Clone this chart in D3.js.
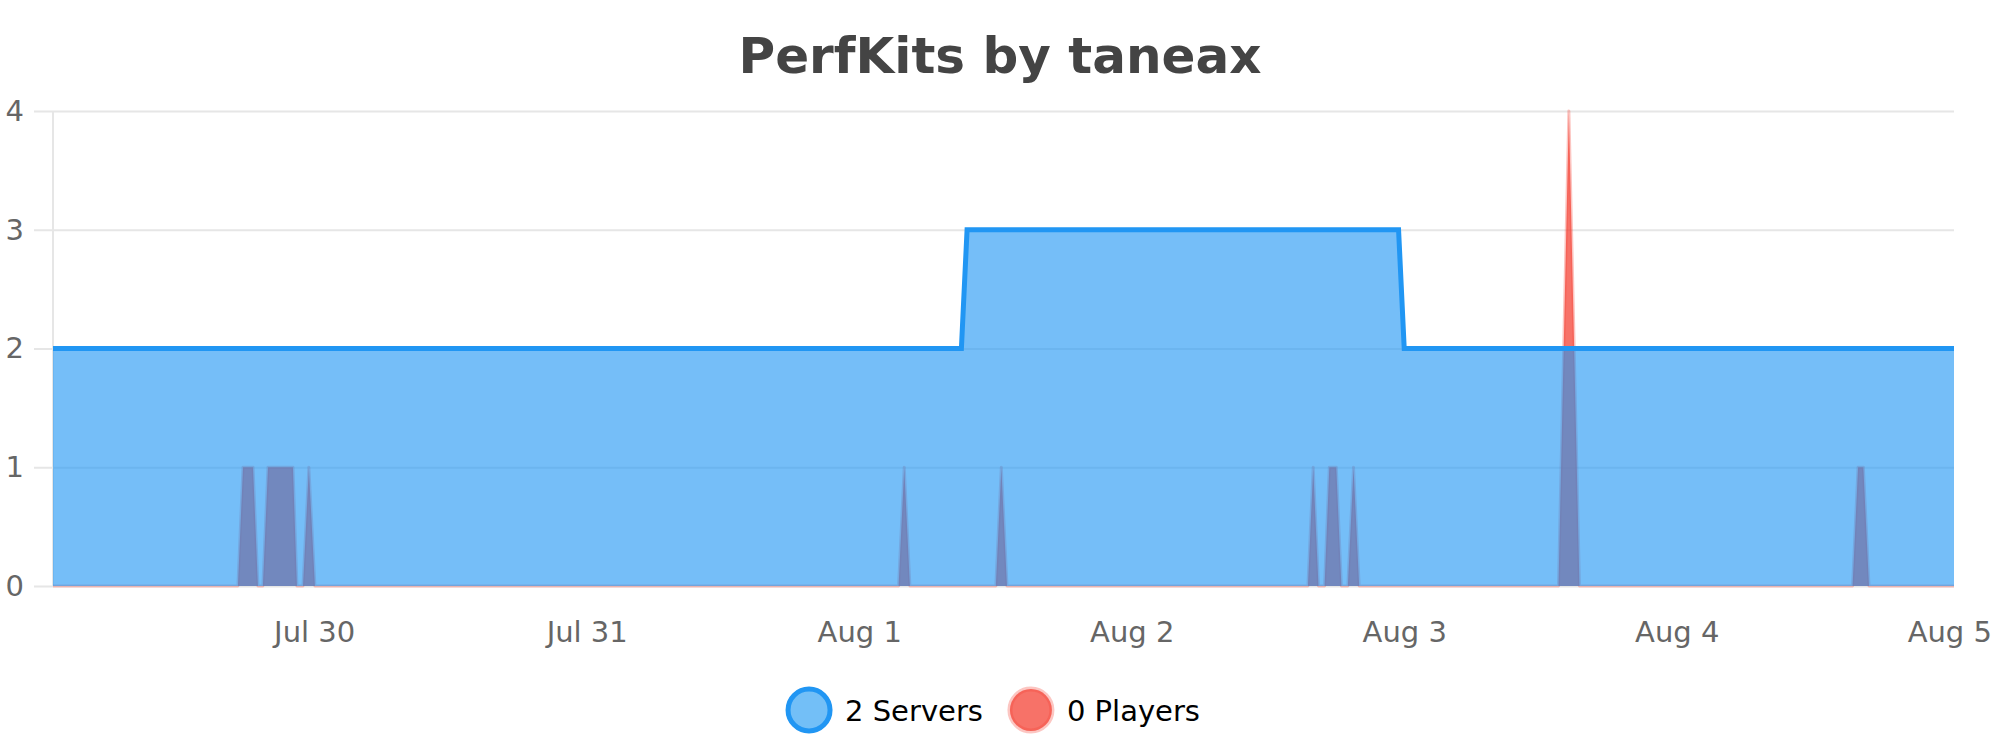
<!DOCTYPE html>
<html lang="en">
<head>
<meta charset="utf-8">
<title>PerfKits by taneax</title>
<script src="https://cdn.jsdelivr.net/npm/d3@7"></script>
<style>
  body { margin: 0; background: #fff; }
  text { font-family: "DejaVu Sans", sans-serif; }
</style>
</head>
<body>
<script>
// chart data
var serverTimes = ["2024-07-29 01:00", "2024-08-01 09:00", "2024-08-01 09:30",
                   "2024-08-02 23:30", "2024-08-03 00:00", "2024-08-05 00:25"];
var serverValues = [2, 2, 3, 3, 2, 2];

var playerTimes = ["2024-07-29 01:00",
  "2024-07-29 17:17", "2024-07-29 17:44", "2024-07-29 18:37", "2024-07-29 19:03",
  "2024-07-29 19:29", "2024-07-29 19:56", "2024-07-29 22:08", "2024-07-29 22:29",
  "2024-07-29 23:01", "2024-07-29 23:32", "2024-07-30 00:04",
  "2024-08-01 03:28", "2024-08-01 03:58", "2024-08-01 04:28",
  "2024-08-01 12:02", "2024-08-01 12:31", "2024-08-01 13:01",
  "2024-08-02 15:31", "2024-08-02 15:59", "2024-08-02 16:27",
  "2024-08-02 16:59", "2024-08-02 17:24", "2024-08-02 18:01", "2024-08-02 18:28",
  "2024-08-02 19:02", "2024-08-02 19:32", "2024-08-02 20:02",
  "2024-08-03 13:35", "2024-08-03 14:30", "2024-08-03 15:26",
  "2024-08-04 15:29", "2024-08-04 15:58", "2024-08-04 16:26", "2024-08-04 16:56",
  "2024-08-05 00:25"];
var playerValues = [0,
  0, 1, 1, 0,
  0, 1, 1, 0,
  0, 1, 0,
  0, 1, 0,
  0, 1, 0,
  0, 1, 0,
  0, 1, 1, 0,
  0, 1, 0,
  0, 4, 0,
  0, 1, 1, 0,
  0];

var xTickLabels = ["2024-07-30", "2024-07-31", "2024-08-01", "2024-08-02",
                   "2024-08-03", "2024-08-04", "2024-08-05"];
var yTicks = [0, 1, 2, 3, 4];
var legendLabels = ["2 Servers", "0 Players"];

// sizes
var w = 2000, h = 750;
var plotLeft = 53, plotRight = 1954, plotTop = 111, plotBottom = 586;

var parseTime = d3.timeParse("%Y-%m-%d %H:%M");
var parseDay = d3.timeParse("%Y-%m-%d");

var servers = serverTimes.map(function(t, i) { return { t: parseTime(t), v: serverValues[i] }; });
var players = playerTimes.map(function(t, i) { return { t: parseTime(t), v: playerValues[i] }; });

var xScale = d3.scaleTime()
  .domain(d3.extent(servers, function(d) { return d.t; }))
  .range([plotLeft, plotRight]);

var yScale = d3.scaleLinear()
  .domain([0, 4])
  .range([plotBottom, plotTop]);

var svg = d3.select("body")
  .append("svg")
  .attr("width", w)
  .attr("height", h);

// title
svg.append("text")
  .attr("x", 1000)
  .attr("y", 73)
  .attr("text-anchor", "middle")
  .attr("font-size", "50px")
  .attr("font-weight", "bold")
  .attr("fill", "#444")
  .text("PerfKits by taneax");

// y grid + labels
var yAxis = svg.append("g")
  .attr("transform", "translate(34,0)")
  .call(d3.axisLeft(yScale)
    .tickValues(yTicks)
    .tickFormat(d3.format("d"))
    .tickSize(-(plotRight - 34))
    .tickPadding(10));
yAxis.select(".domain").remove();
yAxis.selectAll("line").attr("stroke", "#e6e6e6").attr("stroke-width", 2);
yAxis.selectAll("text")
  .attr("font-size", "29px")
  .attr("font-family", "DejaVu Sans, sans-serif")
  .attr("fill", "#666");

// left border
svg.append("line")
  .attr("x1", plotLeft).attr("x2", plotLeft)
  .attr("y1", plotTop).attr("y2", plotBottom)
  .attr("stroke", "#e6e6e6")
  .attr("stroke-width", 2);

// x labels
var xAxis = svg.append("g")
  .attr("transform", "translate(0," + plotBottom + ")")
  .call(d3.axisBottom(xScale)
    .tickValues(xTickLabels.map(parseDay))
    .tickFormat(d3.timeFormat("%b %-d"))
    .tickSize(0));
xAxis.select(".domain").remove();
xAxis.selectAll("text")
  .attr("y", 56)
  .attr("dy", 0)
  .attr("font-size", "29px")
  .attr("font-family", "DejaVu Sans, sans-serif")
  .attr("fill", "#666");

var area = d3.area()
  .x(function(d) { return xScale(d.t); })
  .y0(yScale(0))
  .y1(function(d) { return yScale(d.v); });

var line = d3.line()
  .x(function(d) { return xScale(d.t); })
  .y(function(d) { return yScale(d.v); });

// players (drawn underneath)
svg.append("path")
  .datum(players)
  .attr("d", area)
  .attr("fill", "rgba(244,67,54,0.75)");
svg.append("path")
  .datum(players)
  .attr("d", line)
  .attr("fill", "none")
  .attr("stroke", "rgba(244,67,54,0.3)")
  .attr("stroke-width", 3)
  .attr("stroke-linejoin", "round");

// servers
svg.append("path")
  .datum(servers)
  .attr("d", area)
  .attr("fill", "rgba(33,150,243,0.62)");
svg.append("path")
  .datum(servers)
  .attr("d", line)
  .attr("fill", "none")
  .attr("stroke", "#2196F3")
  .attr("stroke-width", 5)
  .attr("stroke-linejoin", "miter");

// legend
var legendFill = ["rgb(115,191,247)", "rgb(247,114,104)"];
var legendStroke = ["#2196F3", "rgba(244,67,54,0.3)"];
var legend = svg.append("g");
var cx = 0;
legendLabels.forEach(function(lbl, i) {
  var g = legend.append("g").attr("transform", "translate(" + cx + ",0)");
  g.append("circle")
    .attr("cx", 23).attr("cy", 0).attr("r", 21)
    .attr("fill", legendFill[i])
    .attr("stroke", legendStroke[i])
    .attr("stroke-width", 5);
  var t = g.append("text")
    .attr("x", 59)
    .attr("y", 11)
    .attr("font-size", "29px")
    .attr("fill", "#000")
    .text(lbl);
  cx += 59 + t.node().getComputedTextLength() + 25;
});
var legendWidth = cx - 25;
legend.attr("transform", "translate(" + (993 - legendWidth / 2) + ",710)");
</script>
</body>
</html>
